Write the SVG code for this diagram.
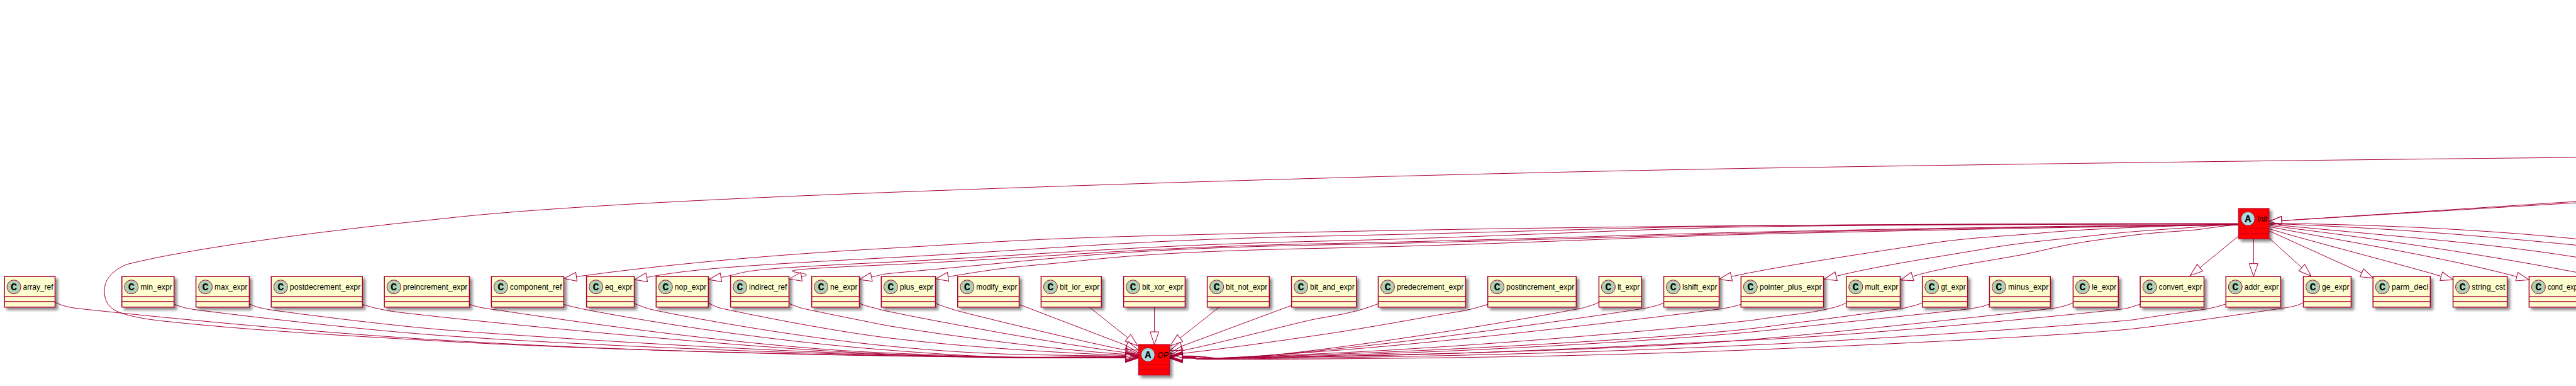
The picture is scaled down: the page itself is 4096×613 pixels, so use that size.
<svg xmlns="http://www.w3.org/2000/svg" width="4096" height="613" viewBox="0 0 4096 613">
<style>
text{font-family:"Liberation Sans",Arial,sans-serif;font-size:13px;fill:#000}
.g{font-family:"Liberation Mono","DejaVu Sans Mono",monospace;font-size:17px;font-weight:bold;text-anchor:middle}
.i{font-style:italic}
.b{fill:#FEFECE;stroke:#A80036;stroke-width:1.5;filter:url(#s)}
.r{fill:#FF0000;stroke:#A80036;stroke-width:1;filter:url(#s)}
.l{stroke:#A80036;stroke-width:1.5}
.m{stroke:#A80036;stroke-width:1}
.c{fill:#ADD1B2;stroke:#A80036;stroke-width:1}
.a{fill:#A9DCDF;stroke:#A80036;stroke-width:1}
#connectors path{fill:none;stroke:#A80036;stroke-width:1;marker-end:url(#h)}
#connectors path.n{marker-end:none}
</style>
<defs>
<filter id="s" x="-15%" y="-15%" width="130%" height="130%"><feDropShadow dx="4" dy="4" stdDeviation="2" flood-color="#000" flood-opacity="0.45"/></filter>
<marker id="h" markerUnits="userSpaceOnUse" markerWidth="24" markerHeight="18" refX="1" refY="8" orient="auto" overflow="visible"><polygon points="1,1 21,8 1,15" fill="none" stroke="#A80036" stroke-width="1"/></marker>
</defs>
<g id="connectors">
<path d="M87.5 480C100 486 108 488 125 490S450 525 700 540S1150 560 1400 564.5S1650 568 1790 568.2"/>
<path d="M4096 250C3700 254 3300 259 2800 267C2400 274 1900 287 1400 306C1000 321 800 336 700 347.7C500 368 300 395 200.9 420C175 432 166 445 166 463C166 480 175 490 187.5 495C205 502 225 506 260 510C400 525 550 533 700 541.7S1150 561 1400 565S1650 568 1790 568.4"/>
<path d="M276.8 482.7C288 488 298 490 312 492S550 522 700 532.7S1150 558 1400 563.5S1650 567.7 1790 568"/>
<path d="M396.4 482.7C408 488 418 490 430 492S600 515 700 523.3S1150 555 1400 562.5S1650 567.5 1790 567.8"/>
<path d="M576.3 483.3C590 488 600 490 615 493S680 501 700 503.3S1150 551 1400 561.7S1650 567 1790 567.5"/>
<path d="M746.4 483.3C760 488 772 490 785 491.5S1150 549 1400 560S1650 566 1790 567"/>
<path d="M896.4 483.3C905 486 914 488 923 490S1150 535 1400 555S1650 565 1790 566.4"/>
<path d="M1008.5 481.7C1015 485 1022 487 1030 490S1230 531 1400 548.3S1650 563 1790 565.6"/>
<path d="M1126.3 481C1131 484 1136 486 1142 488.3S1300 522 1400 535S1650 559 1790 564.5"/>
<path d="M1254.5 481.7C1259 484 1265 486 1271 488.3S1360 507 1400 515S1650 554 1790 562.6"/>
<path d="M1366.5 481.7C1378 487 1388 488 1400 491.7S1650 542 1790.3 560"/>
<path d="M1487.5 481.7C1495 485 1505 488 1516 491.7S1700 538 1790.6 556.3"/>
<path d="M1621.9 484L1791.3 548.8"/>
<path d="M1732 487.7L1793.4 536.5"/>
<path d="M1835.6 487.7L1835.6 527"/>
<path d="M1939 487.5L1876.4 536.9"/>
<path d="M2053.6 485L1878.8 549.8"/>
<path d="M2191.5 482.3C2160 495 2130 500 2100 505S1960 540 1879.5 557"/>
<path d="M2365.6 483.3C2340 492 2320 495 2300 498S2180 520 2100 531.7S1960 552 1880 561.3"/>
<path d="M2542.4 480C2535 484 2527 486 2519.6 488.3S2300 530 2100 555S1950 564 1880 565.3"/>
<path d="M2645.5 480.7C2638 485 2630 486 2622 488.3S2320 535 2100 556.7S1950 565 1880 565.8"/>
<path d="M2768.3 483.3C2755 488 2740 490 2725 492S2350 540 2100 558.3S1950 565.5 1880 566.3"/>
<path d="M2935.7 480.7C2925 487 2910 490 2890 494S2840 500.5 2800 506.7S2400 548 2100 561.7S1950 566 1880 566.8"/>
<path d="M3056.7 480.7C3048 485 3040 486 3032 488.3S2900 507 2800 520S2400 552 2100 563.3S1950 567 1880 567.2"/>
<path d="M3163.4 482.7C3155 487 3145 488 3134.8 490S2900 515 2800 525.7S2400 556 2100 565S1950 567.5 1880 567.6"/>
<path d="M3296.4 480.7C3288 485 3281 486 3273 488.3S2950 525 2800 538S2400 560 2100 566S1950 567.8 1880 568"/>
<path d="M3403.6 482.7C3395 486 3388 488 3380 490S3000 530 2800 539.3S2400 561 2100 566.7S1950 568.2 1880 568.3"/>
<path d="M3539.3 482.7C3530 486 3522 488 3512 490S3420 503 3396 507.3S3000 538 2800 547.3S2400 564 2100 568.3S1950 568.7 1880 568.6"/>
<path d="M3662.5 480.7C3654 485 3646 487 3637 488.3S3480 512 3396 521.7S3000 547 2800 555S2400 568 2100 570S1950 569.3 1880 569"/>
<path d="M3559 355C3100 355 2600 358 2100 368.3S1650 381 1400 395S976 431 916.5 439.5"/>
<path d="M3559 355.5C3300 355.5 3000 356.5 2800 358.5S2400 369 2100 375S1650 397 1400 410S1090 429 1028.3 440.5"/>
<path d="M3559 356C3300 356 3000 357 2800 360S2400 376 2100 383S1650 405 1400 417S1200 431 1146.4 440.5"/>
<path d="M3559 356.5C3300 358 3000 364 2800 368.3S2400 381 2100 387S1650 410 1400 421S1320 431 1274.4 439.5"/>
<path d="M3559 357C3300 359 3000 365 2800 370S2400 383 2100 389S1700 408 1534 423.3S1420 433 1385.7 440"/>
<path d="M3559 357.5C3300 360 3000 367 2800 371.7S2400 388 2100 394.3S1750 412 1668 419S1560 431 1507.5 439.5"/>
<path d="M3559 356C3530 356 3480 358 3425 360S3300 365 3246 370S3130 377 3068 386.7S2830 422 2753 439.3"/>
<path d="M3559 356.5C3530 357 3520 358 3500 360S3400 366 3336 373.3S3220 384 3157 395S2980 423 2919.6 438.7"/>
<path d="M3559 357C3540 358 3520 361 3500 364S3430 368 3380 375S3300 385 3246 398S3100 421 3041 439"/>
<path d="M3559.3 375L3498 425"/>
<path d="M3583.3 379.3L3583.3 418.7"/>
<path d="M3608.3 378.3L3660 425"/>
<path d="M3608 366.7L3755.4 433.3"/>
<path d="M3608 363.3C3680 385 3800 415 3881.7 438.7"/>
<path d="M3608 360C3720 382 3880 407 4001.8 439.3"/>
<path class="n" d="M3608 358C3720 372 3900 395 4096 432.3"/>
<path class="n" d="M3608 356C3800 375 3950 385 4096 408.3"/>
<path class="n" d="M3608 355C3800 362 3950 375 4096 389.3"/>
<path class="n" d="M3608 354.5C3800 357 3950 365 4096 379.3"/>
<path d="M4096 320L3628 350.5"/>
<path d="M4096 322L3628 350.5"/>
</g>
<g id="OP" transform="translate(1810.3 547)"><rect class="r" width="49.4" height="48.7"/><line class="m" x1="0" y1="32.3" x2="49.4" y2="32.3"/><line class="m" x1="0" y1="40.3" x2="49.4" y2="40.3"/><circle class="a" cx="15" cy="16.3" r="11"/><text class="g" x="15" y="22">A</text><text class="i" x="30.5" y="21" textLength="17" lengthAdjust="spacingAndGlyphs">OP</text></g>
<g id="init" transform="translate(3559.3 331)"><rect class="r" width="48.7" height="48.3"/><line class="m" x1="0" y1="32.3" x2="48.7" y2="32.3"/><line class="m" x1="0" y1="40.3" x2="48.7" y2="40.3"/><circle class="a" cx="15" cy="16.3" r="11"/><text class="g" x="15" y="22">A</text><text class="i" x="30" y="21" textLength="15.5" lengthAdjust="spacingAndGlyphs">init</text></g>
<g id="array_ref" transform="translate(7.1 439)"><rect class="b" width="80.4" height="48.7"/><line class="l" x2="80.4" y1="32.3" y2="32.3"/><line class="l" x2="80.4" y1="40" y2="40"/><circle class="c" cx="15" cy="16.7" r="11"/><text class="g" x="15" y="22">C</text><text x="29.5" y="21" textLength="47.9" lengthAdjust="spacingAndGlyphs">array_ref</text></g>
<g id="min_expr" transform="translate(193.8 439)"><rect class="b" width="83" height="48.7"/><line class="l" x2="83" y1="32.3" y2="32.3"/><line class="l" x2="83" y1="40" y2="40"/><circle class="c" cx="15" cy="16.7" r="11"/><text class="g" x="15" y="22">C</text><text x="29.5" y="21" textLength="50.5" lengthAdjust="spacingAndGlyphs">min_expr</text></g>
<g id="max_expr" transform="translate(311.6 439)"><rect class="b" width="84.8" height="48.7"/><line class="l" x2="84.8" y1="32.3" y2="32.3"/><line class="l" x2="84.8" y1="40" y2="40"/><circle class="c" cx="15" cy="16.7" r="11"/><text class="g" x="15" y="22">C</text><text x="29.5" y="21" textLength="52.3" lengthAdjust="spacingAndGlyphs">max_expr</text></g>
<g id="postdecrement_expr" transform="translate(431.3 439)"><rect class="b" width="145" height="48.7"/><line class="l" x2="145" y1="32.3" y2="32.3"/><line class="l" x2="145" y1="40" y2="40"/><circle class="c" cx="15" cy="16.7" r="11"/><text class="g" x="15" y="22">C</text><text x="29.5" y="21" textLength="112.5" lengthAdjust="spacingAndGlyphs">postdecrement_expr</text></g>
<g id="preincrement_expr" transform="translate(611.2 439)"><rect class="b" width="135.2" height="48.7"/><line class="l" x2="135.2" y1="32.3" y2="32.3"/><line class="l" x2="135.2" y1="40" y2="40"/><circle class="c" cx="15" cy="16.7" r="11"/><text class="g" x="15" y="22">C</text><text x="29.5" y="21" textLength="102.7" lengthAdjust="spacingAndGlyphs">preincrement_expr</text></g>
<g id="component_ref" transform="translate(781.3 439)"><rect class="b" width="115.1" height="48.7"/><line class="l" x2="115.1" y1="32.3" y2="32.3"/><line class="l" x2="115.1" y1="40" y2="40"/><circle class="c" cx="15" cy="16.7" r="11"/><text class="g" x="15" y="22">C</text><text x="29.5" y="21" textLength="82.6" lengthAdjust="spacingAndGlyphs">component_ref</text></g>
<g id="eq_expr" transform="translate(932.6 439)"><rect class="b" width="75.9" height="48.7"/><line class="l" x2="75.9" y1="32.3" y2="32.3"/><line class="l" x2="75.9" y1="40" y2="40"/><circle class="c" cx="15" cy="16.7" r="11"/><text class="g" x="15" y="22">C</text><text x="29.5" y="21" textLength="43.4" lengthAdjust="spacingAndGlyphs">eq_expr</text></g>
<g id="nop_expr" transform="translate(1043.3 439)"><rect class="b" width="83" height="48.7"/><line class="l" x2="83" y1="32.3" y2="32.3"/><line class="l" x2="83" y1="40" y2="40"/><circle class="c" cx="15" cy="16.7" r="11"/><text class="g" x="15" y="22">C</text><text x="29.5" y="21" textLength="50.5" lengthAdjust="spacingAndGlyphs">nop_expr</text></g>
<g id="indirect_ref" transform="translate(1161.6 439)"><rect class="b" width="92.9" height="48.7"/><line class="l" x2="92.9" y1="32.3" y2="32.3"/><line class="l" x2="92.9" y1="40" y2="40"/><circle class="c" cx="15" cy="16.7" r="11"/><text class="g" x="15" y="22">C</text><text x="29.5" y="21" textLength="60.4" lengthAdjust="spacingAndGlyphs">indirect_ref</text></g>
<g id="ne_expr" transform="translate(1290.6 439)"><rect class="b" width="75.9" height="48.7"/><line class="l" x2="75.9" y1="32.3" y2="32.3"/><line class="l" x2="75.9" y1="40" y2="40"/><circle class="c" cx="15" cy="16.7" r="11"/><text class="g" x="15" y="22">C</text><text x="29.5" y="21" textLength="43.4" lengthAdjust="spacingAndGlyphs">ne_expr</text></g>
<g id="plus_expr" transform="translate(1401.3 439)"><rect class="b" width="86.2" height="48.7"/><line class="l" x2="86.2" y1="32.3" y2="32.3"/><line class="l" x2="86.2" y1="40" y2="40"/><circle class="c" cx="15" cy="16.7" r="11"/><text class="g" x="15" y="22">C</text><text x="29.5" y="21" textLength="53.7" lengthAdjust="spacingAndGlyphs">plus_expr</text></g>
<g id="modify_expr" transform="translate(1522.8 439)"><rect class="b" width="97.7" height="48.7"/><line class="l" x2="97.7" y1="32.3" y2="32.3"/><line class="l" x2="97.7" y1="40" y2="40"/><circle class="c" cx="15" cy="16.7" r="11"/><text class="g" x="15" y="22">C</text><text x="29.5" y="21" textLength="65.2" lengthAdjust="spacingAndGlyphs">modify_expr</text></g>
<g id="bit_ior_expr" transform="translate(1655.4 439)"><rect class="b" width="95.9" height="48.7"/><line class="l" x2="95.9" y1="32.3" y2="32.3"/><line class="l" x2="95.9" y1="40" y2="40"/><circle class="c" cx="15" cy="16.7" r="11"/><text class="g" x="15" y="22">C</text><text x="29.5" y="21" textLength="63.4" lengthAdjust="spacingAndGlyphs">bit_ior_expr</text></g>
<g id="bit_xor_expr" transform="translate(1786.6 439)"><rect class="b" width="97.8" height="48.7"/><line class="l" x2="97.8" y1="32.3" y2="32.3"/><line class="l" x2="97.8" y1="40" y2="40"/><circle class="c" cx="15" cy="16.7" r="11"/><text class="g" x="15" y="22">C</text><text x="29.5" y="21" textLength="65.3" lengthAdjust="spacingAndGlyphs">bit_xor_expr</text></g>
<g id="bit_not_expr" transform="translate(1919.6 439)"><rect class="b" width="98.7" height="48.7"/><line class="l" x2="98.7" y1="32.3" y2="32.3"/><line class="l" x2="98.7" y1="40" y2="40"/><circle class="c" cx="15" cy="16.7" r="11"/><text class="g" x="15" y="22">C</text><text x="29.5" y="21" textLength="66.2" lengthAdjust="spacingAndGlyphs">bit_not_expr</text></g>
<g id="bit_and_expr" transform="translate(2053.6 439)"><rect class="b" width="103.1" height="48.7"/><line class="l" x2="103.1" y1="32.3" y2="32.3"/><line class="l" x2="103.1" y1="40" y2="40"/><circle class="c" cx="15" cy="16.7" r="11"/><text class="g" x="15" y="22">C</text><text x="29.5" y="21" textLength="70.6" lengthAdjust="spacingAndGlyphs">bit_and_expr</text></g>
<g id="predecrement_expr" transform="translate(2191.5 439)"><rect class="b" width="138.9" height="48.7"/><line class="l" x2="138.9" y1="32.3" y2="32.3"/><line class="l" x2="138.9" y1="40" y2="40"/><circle class="c" cx="15" cy="16.7" r="11"/><text class="g" x="15" y="22">C</text><text x="29.5" y="21" textLength="106.4" lengthAdjust="spacingAndGlyphs">predecrement_expr</text></g>
<g id="postincrement_expr" transform="translate(2365.6 439)"><rect class="b" width="140.7" height="48.7"/><line class="l" x2="140.7" y1="32.3" y2="32.3"/><line class="l" x2="140.7" y1="40" y2="40"/><circle class="c" cx="15" cy="16.7" r="11"/><text class="g" x="15" y="22">C</text><text x="29.5" y="21" textLength="108.2" lengthAdjust="spacingAndGlyphs">postincrement_expr</text></g>
<g id="lt_expr" transform="translate(2542.4 439)"><rect class="b" width="67.9" height="48.7"/><line class="l" x2="67.9" y1="32.3" y2="32.3"/><line class="l" x2="67.9" y1="40" y2="40"/><circle class="c" cx="15" cy="16.7" r="11"/><text class="g" x="15" y="22">C</text><text x="29.5" y="21" textLength="35.4" lengthAdjust="spacingAndGlyphs">lt_expr</text></g>
<g id="lshift_expr" transform="translate(2645.5 439)"><rect class="b" width="88" height="48.7"/><line class="l" x2="88" y1="32.3" y2="32.3"/><line class="l" x2="88" y1="40" y2="40"/><circle class="c" cx="15" cy="16.7" r="11"/><text class="g" x="15" y="22">C</text><text x="29.5" y="21" textLength="55.5" lengthAdjust="spacingAndGlyphs">lshift_expr</text></g>
<g id="pointer_plus_expr" transform="translate(2768.3 439)"><rect class="b" width="131.3" height="48.7"/><line class="l" x2="131.3" y1="32.3" y2="32.3"/><line class="l" x2="131.3" y1="40" y2="40"/><circle class="c" cx="15" cy="16.7" r="11"/><text class="g" x="15" y="22">C</text><text x="29.5" y="21" textLength="98.8" lengthAdjust="spacingAndGlyphs">pointer_plus_expr</text></g>
<g id="mult_expr" transform="translate(2935.7 439)"><rect class="b" width="85.7" height="48.7"/><line class="l" x2="85.7" y1="32.3" y2="32.3"/><line class="l" x2="85.7" y1="40" y2="40"/><circle class="c" cx="15" cy="16.7" r="11"/><text class="g" x="15" y="22">C</text><text x="29.5" y="21" textLength="53.2" lengthAdjust="spacingAndGlyphs">mult_expr</text></g>
<g id="gt_expr" transform="translate(3056.7 439)"><rect class="b" width="71.9" height="48.7"/><line class="l" x2="71.9" y1="32.3" y2="32.3"/><line class="l" x2="71.9" y1="40" y2="40"/><circle class="c" cx="15" cy="16.7" r="11"/><text class="g" x="15" y="22">C</text><text x="29.5" y="21" textLength="39.4" lengthAdjust="spacingAndGlyphs">gt_expr</text></g>
<g id="minus_expr" transform="translate(3163.4 439)"><rect class="b" width="96.9" height="48.7"/><line class="l" x2="96.9" y1="32.3" y2="32.3"/><line class="l" x2="96.9" y1="40" y2="40"/><circle class="c" cx="15" cy="16.7" r="11"/><text class="g" x="15" y="22">C</text><text x="29.5" y="21" textLength="64.4" lengthAdjust="spacingAndGlyphs">minus_expr</text></g>
<g id="le_expr" transform="translate(3296.4 439)"><rect class="b" width="71.9" height="48.7"/><line class="l" x2="71.9" y1="32.3" y2="32.3"/><line class="l" x2="71.9" y1="40" y2="40"/><circle class="c" cx="15" cy="16.7" r="11"/><text class="g" x="15" y="22">C</text><text x="29.5" y="21" textLength="39.4" lengthAdjust="spacingAndGlyphs">le_expr</text></g>
<g id="convert_expr" transform="translate(3403.1 439)"><rect class="b" width="101.4" height="48.7"/><line class="l" x2="101.4" y1="32.3" y2="32.3"/><line class="l" x2="101.4" y1="40" y2="40"/><circle class="c" cx="15" cy="16.7" r="11"/><text class="g" x="15" y="22">C</text><text x="29.5" y="21" textLength="68.9" lengthAdjust="spacingAndGlyphs">convert_expr</text></g>
<g id="addr_expr" transform="translate(3539.3 439)"><rect class="b" width="87.1" height="48.7"/><line class="l" x2="87.1" y1="32.3" y2="32.3"/><line class="l" x2="87.1" y1="40" y2="40"/><circle class="c" cx="15" cy="16.7" r="11"/><text class="g" x="15" y="22">C</text><text x="29.5" y="21" textLength="54.6" lengthAdjust="spacingAndGlyphs">addr_expr</text></g>
<g id="ge_expr" transform="translate(3662.5 439)"><rect class="b" width="75.9" height="48.7"/><line class="l" x2="75.9" y1="32.3" y2="32.3"/><line class="l" x2="75.9" y1="40" y2="40"/><circle class="c" cx="15" cy="16.7" r="11"/><text class="g" x="15" y="22">C</text><text x="29.5" y="21" textLength="43.4" lengthAdjust="spacingAndGlyphs">ge_expr</text></g>
<g id="parm_decl" transform="translate(3773.2 439)"><rect class="b" width="91.1" height="48.7"/><line class="l" x2="91.1" y1="32.3" y2="32.3"/><line class="l" x2="91.1" y1="40" y2="40"/><circle class="c" cx="15" cy="16.7" r="11"/><text class="g" x="15" y="22">C</text><text x="29.5" y="21" textLength="58.6" lengthAdjust="spacingAndGlyphs">parm_decl</text></g>
<g id="string_cst" transform="translate(3900.5 439)"><rect class="b" width="86.1" height="48.7"/><line class="l" x2="86.1" y1="32.3" y2="32.3"/><line class="l" x2="86.1" y1="40" y2="40"/><circle class="c" cx="15" cy="16.7" r="11"/><text class="g" x="15" y="22">C</text><text x="29.5" y="21" textLength="53.6" lengthAdjust="spacingAndGlyphs">string_cst</text></g>
<g id="cond_expr" transform="translate(4021.4 439)"><rect class="b" width="84" height="48.7"/><line class="l" x2="84" y1="32.3" y2="32.3"/><line class="l" x2="84" y1="40" y2="40"/><circle class="c" cx="15" cy="16.7" r="11"/><text class="g" x="15" y="22">C</text><text x="29.5" y="21" textLength="51.5" lengthAdjust="spacingAndGlyphs">cond_expr</text></g>
</svg>
